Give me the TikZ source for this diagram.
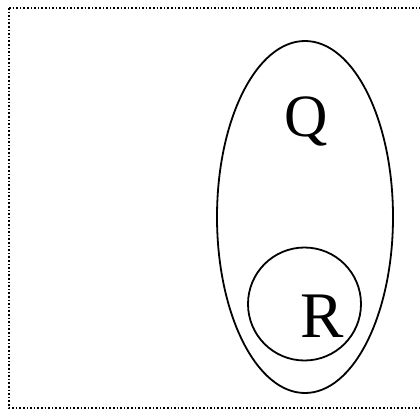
\documentclass[tikz,border=0pt]{standalone}
\usepackage{fontspec}
\setmainfont{Liberation Serif}
\begin{document}
\begin{tikzpicture}[x=1pt,y=-1pt,
  frame/.style={line width=1.4pt,dash pattern=on 1.6pt off 2pt},
  shapeline/.style={line width=1.8pt},
  lbl/.style={anchor=base,inner sep=0pt}]
\useasboundingbox (0,0) rectangle (420,409);
\draw[frame] (9,8) -- (424,8) (9,8) -- (9,408) -- (424,408);
\draw[shapeline] (305,217) ellipse [x radius=88, y radius=176];
\draw[shapeline] (304.5,304) circle [radius=56.5];
\node[lbl,font=\fontsize{60}{60}\selectfont] (q) at (306.5,136) {Q};
\node[lbl,font=\fontsize{65}{65}\selectfont] (r) at (322,337) {R};
\end{tikzpicture}
\end{document}
